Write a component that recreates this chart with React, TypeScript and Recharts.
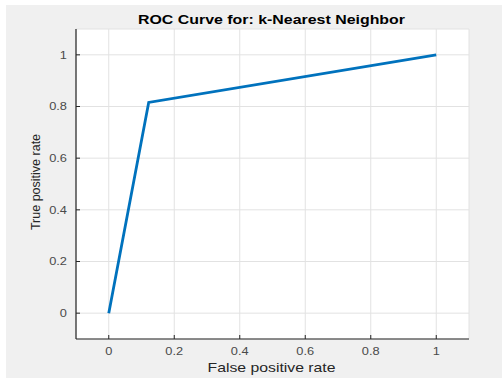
import { LineChart, Line, XAxis, YAxis, CartesianGrid } from 'recharts'

// ─── ROC data (k-NN) ──────────────────────────────────────────────────────
const falsePositiveRate = [0, 0.122, 1]
const truePositiveRate = [0, 0.816, 1]
const axisTicks = [0, 0.2, 0.4, 0.6, 0.8, 1]
const tickLabels = ['0', '0.2', '0.4', '0.6', '0.8', '1']

const rocData = falsePositiveRate.map((fpr, i) => ({ fpr, tpr: truePositiveRate[i] }))

const AXIS_COLOR = '#262626'
const TEXT_COLOR = '#4a4a4a'
const STRETCH = 1.22

const labelFor = (v: number) => {
  const i = axisTicks.findIndex(t => Math.abs(t - v) < 1e-9)
  return i >= 0 ? tickLabels[i] : String(v)
}

const XTick = ({ x, y, payload }: any) => (
  <text
    transform={`translate(${x},${y}) scale(${STRETCH},1)`}
    textAnchor="middle"
    dy="0.71em"
    fontFamily="Arial, 'Liberation Sans', sans-serif"
    fontSize={10.5}
    fill={TEXT_COLOR}
  >
    {labelFor(payload.value)}
  </text>
)

const YTick = ({ x, y, payload }: any) => (
  <text
    transform={`translate(${x},${y}) scale(${STRETCH},1)`}
    textAnchor="end"
    dy="0.355em"
    fontFamily="Arial, 'Liberation Sans', sans-serif"
    fontSize={10.5}
    fill={TEXT_COLOR}
  >
    {labelFor(payload.value)}
  </text>
)

export default function App() {
  return (
    <div style={{ position: 'absolute', left: 0, top: 0, width: 502, height: 378, background: '#fff' }}>
      <div style={{ position: 'absolute', left: 6, top: 5, width: 496, height: 373, background: '#f0f0f0' }} />
      <div style={{ position: 'absolute', left: 0, top: 0 }}>
        <LineChart
          width={502}
          height={378}
          data={rocData}
          margin={{ top: 29, right: 33, bottom: 0, left: 0 }}
        >
          <CartesianGrid fill="#ffffff" stroke="#e2e2e2" strokeWidth={1} />
          <XAxis
            type="number"
            dataKey="fpr"
            domain={[-0.1, 1.1]}
            ticks={axisTicks}
            allowDataOverflow
            height={39}
            axisLine={{ stroke: AXIS_COLOR, strokeWidth: 1.2 }}
            tickLine={{ stroke: AXIS_COLOR }}
            tickSize={-4}
            tickMargin={13}
            tick={<XTick />}
          />
          <YAxis
            type="number"
            dataKey="tpr"
            domain={[-0.1, 1.1]}
            ticks={axisTicks}
            allowDataOverflow
            width={76}
            axisLine={{ stroke: AXIS_COLOR, strokeWidth: 1.2 }}
            tickLine={{ stroke: AXIS_COLOR }}
            tickSize={-4}
            tickMargin={13}
            tick={<YTick />}
          />
          <Line
            type="linear"
            dataKey="tpr"
            stroke="#0072BD"
            strokeWidth={2.8}
            dot={false}
            isAnimationActive={false}
          />
        </LineChart>
      </div>
      {/* title and axis labels */}
      <svg width={502} height={378} style={{ position: 'absolute', left: 0, top: 0, pointerEvents: 'none' }}>
        <text
          x={271.5}
          y={24}
          textAnchor="middle"
          fontFamily="Arial, 'Liberation Sans', sans-serif"
          fontWeight="bold"
          fontSize={12.5}
          fill="#000"
          textLength={267}
          lengthAdjust="spacingAndGlyphs"
        >
          ROC Curve for: k-Nearest Neighbor
        </text>
        <text
          x={271.5}
          y={372}
          textAnchor="middle"
          fontFamily="Arial, 'Liberation Sans', sans-serif"
          fontSize={13}
          fill="#262626"
          textLength={128}
          lengthAdjust="spacingAndGlyphs"
        >
          False positive rate
        </text>
        <text
          transform="translate(40,182) rotate(-90)"
          textAnchor="middle"
          fontFamily="Arial, 'Liberation Sans', sans-serif"
          fontSize={12.5}
          fill="#262626"
        >
          True positive rate
        </text>
      </svg>
    </div>
  )
}
